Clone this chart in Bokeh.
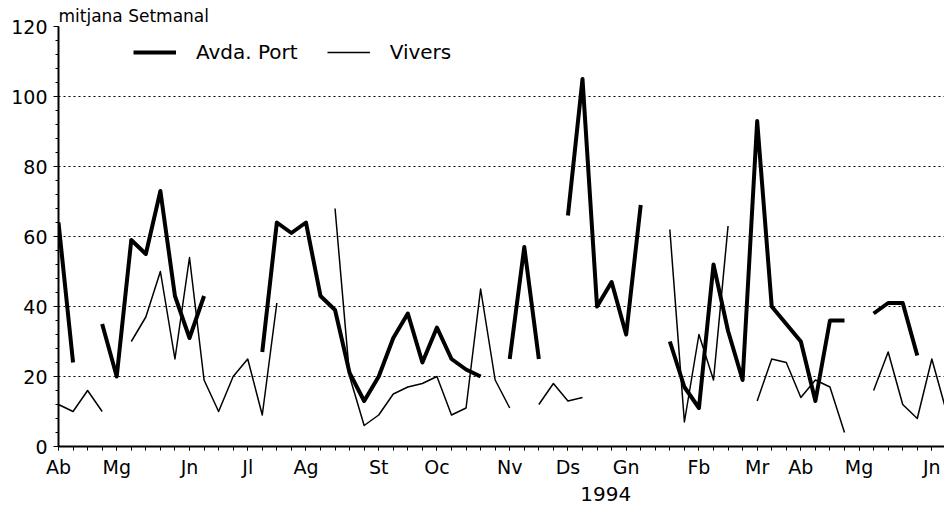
import numpy as np
from bokeh.plotting import figure
from bokeh.models import (Range1d, FixedTicker, SingleIntervalTicker, Legend,
                          LegendItem, LinearAxis, Title, ColumnDataSource)
from bokeh.embed import file_html
from bokeh.resources import INLINE

# ---- data (weekly values, None = no measurement) ----
weeks = list(range(62))
avda_port = [64, 24, None, 35, 20, 59, 55, 73, 43, 31,
             43, None, None, None, 27, 64, 61, 64, 43, 39,
             21, 13, 20, 31, 38, 24, 34, 25, 22, 20,
             None, 25, 57, 25, None, 66, 105, 40, 47, 32,
             69, None, 30, 17, 11, 52, 33, 19, 93, 40,
             35, 30, 13, 36, 36, None, 38, 41, 41, 26,
             None, None]
vivers = [12, 10, 16, 10, None, 30, 37, 50, 25, 54,
          19, 10, 20, 25, 9, 41, None, None, None, 68,
          20, 6, 9, 15, 17, 18, 20, 9, 11, 45,
          19, 11, None, 12, 18, 13, 14, None, None, None,
          None, None, 62, 7, 32, 19, 63, None, 13, 25,
          24, 14, 19, 17, 4, None, 16, 27, 12, 8,
          25, 10]
month_weeks = [0, 4, 9, 13, 17, 22, 26, 31, 35, 39, 44, 48, 51, 55, 60]
month_labels = ["Ab", "Mg", "Jn", "Jl", "Ag", "St", "Oc", "Nv", "Ds", "Gn",
                "Fb", "Mr", "Ab", "Mg", "Jn"]
series_names = ["Avda. Port", "Vivers"]
year_week = [37.6]
year_label = ["1994"]
title_text = "mitjana Setmanal"

FONT = "DejaVu Sans"

src = ColumnDataSource(dict(
    week=weeks,
    avda=np.array(avda_port, dtype=float),
    viv=np.array(vivers, dtype=float),
))

p = figure(frame_width=886, frame_height=420,
           min_border_left=58, min_border_right=0,
           min_border_top=26, min_border_bottom=60,
           x_range=Range1d(0, 60.87), y_range=Range1d(0, 120),
           output_backend="svg", toolbar_location=None,
           background_fill_color="white", border_fill_color="white")
p.outline_line_color = None

p.add_layout(Title(text=title_text, align="left", text_font=FONT,
                   text_font_size="17px", text_font_style="normal",
                   text_color="black", standoff=2), "above")

r1 = p.line("week", "avda", source=src, line_width=4, line_color="black",
            line_join="round")
r2 = p.line("week", "viv", source=src, line_width=1.5, line_color="black",
            line_join="round")

# grid
p.xgrid.visible = False
p.ygrid.grid_line_color = "black"
p.ygrid.grid_line_dash = "2 3"
p.ygrid.grid_line_width = 1

# y axis
ya = p.yaxis[0]
ya.ticker = SingleIntervalTicker(interval=20, num_minor_ticks=5)
ya.axis_line_width = 2
ya.axis_line_color = "black"
ya.major_tick_in = 0
ya.major_tick_out = 5
ya.minor_tick_in = 0
ya.minor_tick_out = 3
ya.major_tick_line_color = "black"
ya.minor_tick_line_color = "black"
ya.major_label_standoff = 6
ya.major_label_text_font = FONT
ya.major_label_text_font_size = "19px"
ya.major_label_text_color = "black"

# x axis
xa = p.xaxis[0]
xa.ticker = FixedTicker(ticks=month_weeks, minor_ticks=weeks)
xa.major_label_overrides = {w: lab for w, lab in zip(month_weeks, month_labels)}
xa.axis_line_width = 2
xa.axis_line_color = "black"
xa.major_tick_in = 0
xa.major_tick_out = 4
xa.minor_tick_in = 0
xa.minor_tick_out = 4
xa.major_tick_line_color = "black"
xa.minor_tick_line_color = "black"
xa.major_label_standoff = 5
xa.major_label_text_font = FONT
xa.major_label_text_font_size = "19px"
xa.major_label_text_color = "black"

# second (year) axis below the month axis
xa2 = LinearAxis(ticker=FixedTicker(ticks=year_week, minor_ticks=[]),
                 major_label_overrides={w: lab for w, lab in zip(year_week, year_label)},
                 axis_line_color=None, major_tick_line_color=None,
                 minor_tick_line_color=None, major_tick_in=0, major_tick_out=0,
                 minor_tick_in=0, minor_tick_out=0,
                 major_label_standoff=6,
                 major_label_text_font=FONT, major_label_text_font_size="20px",
                 major_label_text_color="black")
p.add_layout(xa2, "below")

# legend
legend = Legend(items=[LegendItem(label=series_names[0], renderers=[r1]),
                       LegendItem(label=series_names[1], renderers=[r2])],
                orientation="horizontal", location=(75, 382),
                glyph_width=43, glyph_height=20, label_height=20,
                label_standoff=20, spacing=29, padding=0, margin=0,
                border_line_color=None, background_fill_alpha=0,
                label_text_font=FONT, label_text_font_size="20px",
                label_text_color="black")
p.add_layout(legend)

open("out.html", "w").write(file_html(p, INLINE))
